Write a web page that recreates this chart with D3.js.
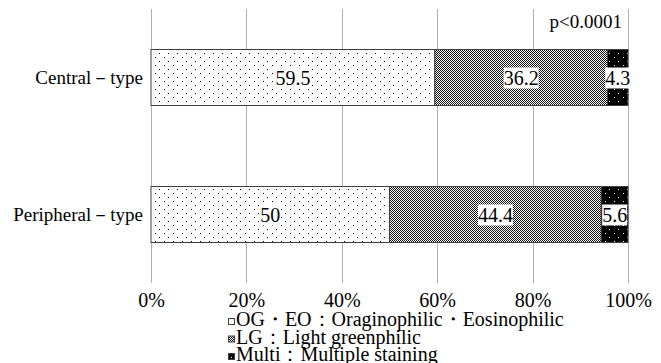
<!DOCTYPE html>
<html><head><meta charset="utf-8">
<script src="https://cdn.jsdelivr.net/npm/d3@7"></script>
<style>body{margin:0;background:#fff}svg{display:block}</style>
</head><body>
<svg id="c" width="661" height="363"></svg>
<script>
const categories = ["Central\uFF0Dtype", "Peripheral\uFF0Dtype"];
const seriesNames = ["OG", "LG", "Multi"];
const ogValues = [59.5, 50];
const lgValues = [36.2, 44.4];
const multiValues = [4.3, 5.6];
const tickValues = [0, 20, 40, 60, 80, 100];
const legendLabels = ["OG\u30FBEO\uFF1AOraginophilic\u30FBEosinophilic", "LG\uFF1ALight greenphilic", "Multi\uFF1AMultiple staining"];
const pText = "p<0.0001";

(function(){
const svg = d3.select("#c");
const FF = '"Liberation Serif"';
const L = 151, R = 628, T = 9, B = 283;

const defs = svg.append("defs");
const p1 = defs.append("pattern").attr("id","pOG").attr("patternUnits","userSpaceOnUse").attr("width",9).attr("height",8);
p1.append("rect").attr("width",9).attr("height",8).attr("fill","#fff");
p1.append("rect").attr("x",2).attr("y",1).attr("width",1).attr("height",1).attr("fill","#000");
p1.append("rect").attr("x",6).attr("y",5).attr("width",1).attr("height",1).attr("fill","#000");
const p2 = defs.append("pattern").attr("id","pLG").attr("patternUnits","userSpaceOnUse").attr("width",2).attr("height",2);
p2.append("rect").attr("width",2).attr("height",2).attr("fill","#fff");
p2.append("rect").attr("x",0).attr("y",0).attr("width",1).attr("height",1).attr("fill","#111");
p2.append("rect").attr("x",1).attr("y",1).attr("width",1).attr("height",1).attr("fill","#111");
const p3 = defs.append("pattern").attr("id","pM").attr("patternUnits","userSpaceOnUse").attr("width",9).attr("height",8);
p3.append("rect").attr("width",9).attr("height",8).attr("fill","#000");
p3.append("rect").attr("x",2).attr("y",1).attr("width",1).attr("height",1).attr("fill","#fff");
p3.append("rect").attr("x",6).attr("y",5).attr("width",1).attr("height",1).attr("fill","#fff");
const fills = {OG:"url(#pOG)", LG:"url(#pLG)", Multi:"url(#pM)"};

const x = d3.scaleLinear().domain([0,100]).range([L,R]);
const y = d3.scaleBand().domain(categories).range([T,B]).paddingInner(0.59).paddingOuter(0.295);

svg.append("g").selectAll("line").data(tickValues).join("line")
  .attr("x1",d=>Math.round(x(d))+0.5).attr("x2",d=>Math.round(x(d))+0.5)
  .attr("y1",T).attr("y2",B)
  .attr("stroke","#b0b0b0").attr("stroke-width",1);

const xAxis = d3.axisBottom(x).tickValues(tickValues).tickFormat(d=>d+"%").tickSize(0).tickPadding(0);
const gx = svg.append("g").attr("transform",`translate(0,${B})`).call(xAxis);
gx.select(".domain").remove();
gx.selectAll("text").style("font-family",FF).style("font-size","20px").attr("fill","#000").attr("dy","0").attr("y",24);

const yAxis = d3.axisLeft(y).tickSize(0).tickPadding(8);
const gy = svg.append("g").attr("transform",`translate(${L},0)`).call(yAxis);
gy.select(".domain").remove();
gy.selectAll("text").style("font-family",FF).style("font-size","19px").attr("fill","#000").attr("dy","0.32em");

const rows = categories.map((c,i)=>({cat:c, OG:ogValues[i], LG:lgValues[i], Multi:multiValues[i]}));
const stacked = d3.stack().keys(seriesNames)(rows);

const gb = svg.append("g");
stacked.forEach(s=>{
  gb.selectAll(null).data(s).join("rect")
    .attr("x",d=>x(d[0])).attr("width",d=>x(d[1])-x(d[0]))
    .attr("y",d=>Math.round(y(d.data.cat))+0.5).attr("height",Math.round(y.bandwidth()))
    .attr("fill",fills[s.key]).attr("stroke","#404040").attr("stroke-width",1);
});
stacked.forEach(s=>{
  s.forEach(d=>{
    const cx = (x(d[0])+x(d[1]))/2, cy = y(d.data.cat)+y.bandwidth()/2;
    const t = gb.append("text").attr("x",cx).attr("y",cy).attr("dy","0.35em")
      .attr("text-anchor","middle").style("font-family",FF).style("font-size","20px").attr("fill","#000")
      .text(d.data[s.key]);
    const bb = t.node().getBBox();
    gb.insert("rect", () => t.node()).attr("x",bb.x).attr("y",bb.y+1).attr("width",bb.width).attr("height",bb.height-1)
      .attr("fill","#fff");
  });
});

svg.append("text").attr("x",622).attr("y",28).attr("text-anchor","end")
  .style("font-family",FF).style("font-size","19px").text(pText);

const lg = svg.append("g");
legendLabels.forEach((l,i)=>{
  const by = 326 + i*17.5;
  lg.append("rect").attr("x",228.5).attr("y",by-7.5).attr("width",6).attr("height",6)
    .attr("fill",fills[seriesNames[i]]).attr("stroke","#404040").attr("stroke-width",1);
  lg.append("text").attr("x",236).attr("y",by).style("font-family",FF).style("font-size","20px").text(l);
});
})();
</script>
</body></html>
